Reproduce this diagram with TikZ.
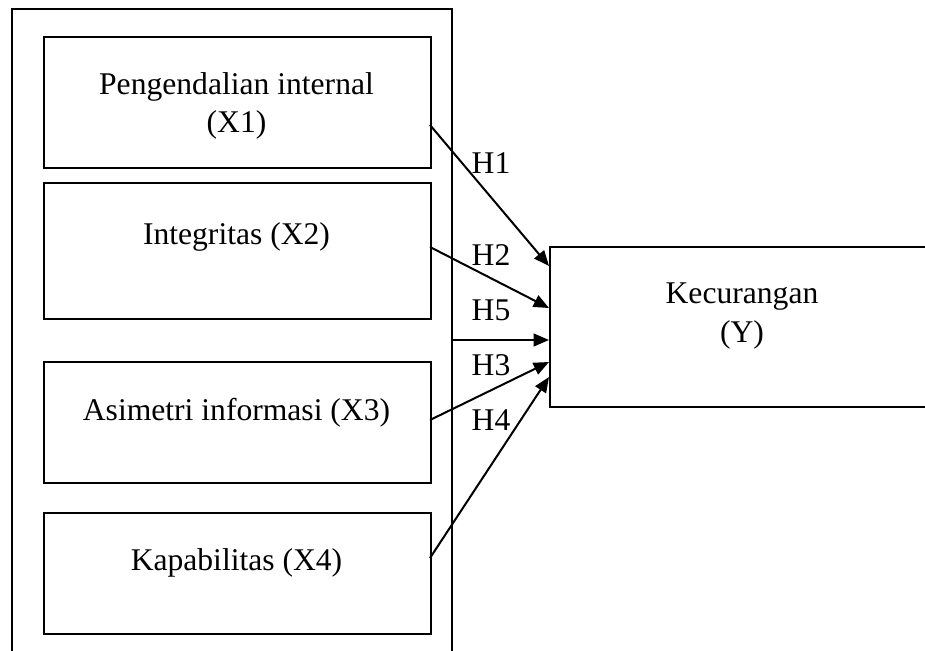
\documentclass[tikz,border=0pt]{standalone}
\usepackage{fontspec}
\setmainfont{Liberation Serif}
\usetikzlibrary{arrows.meta}
\tikzset{
  box/.style={draw, line width=1.4pt, rectangle, inner sep=0pt, anchor=north west},
  txt/.style={font=\fontsize{23.7}{29}\selectfont, inner sep=0pt, align=center},
  conn/.style={line width=1.5pt, -{Triangle[length=11.5pt,width=9.5pt]}},
  hlab/.style={font=\fontsize{23.7}{29}\selectfont, inner sep=0pt}
}
\begin{document}
\begin{tikzpicture}[x=0.75pt,y=-0.75pt]
\useasboundingbox (0,0) rectangle (925,650);
\clip (0,0) rectangle (925,650);
% outer frame
\draw[line width=1.4pt] (12,670) -- (12,9) -- (452,9) -- (452,670);
% boxes
\node[box, minimum width=387*0.75pt, minimum height=131*0.75pt] (x1) at (43,36) {};
\node[box, minimum width=387*0.75pt, minimum height=136*0.75pt] (x2) at (43,182) {};
\node[box, minimum width=387*0.75pt, minimum height=121*0.75pt] (x3) at (43,361) {};
\node[box, minimum width=387*0.75pt, minimum height=121*0.75pt] (x4) at (43,512) {};
\node[box, minimum width=400*0.75pt, minimum height=160*0.75pt] (y) at (549,246) {};
% texts
\node[txt] (t1) at (236.5,106) {Pengendalian internal\\(X1)};
\node[txt] (t2) at (236.5,237) {Integritas (X2)};
\node[txt] (t3) at (236.5,413) {Asimetri informasi (X3)};
\node[txt] (t4) at (236.5,563) {Kapabilitas (X4)};
\node[txt] (ty) at (742,316) {Kecurangan\\(Y)};
% connector end points
\coordinate (s1) at (430,125);
\coordinate (s2) at (430,247);
\coordinate (s5) at (452,340);
\coordinate (s3) at (430,420);
\coordinate (s4) at (430,558);
\coordinate (e1) at (549,266);
\coordinate (e2) at (549,308);
\coordinate (e5) at (549,340);
\coordinate (e3) at (549,362);
\coordinate (e4) at (549,377);
\draw[conn] (s1) -- (e1);
\draw[conn] (s2) -- (e2);
\draw[conn] (s5) -- (e5);
\draw[conn] (s3) -- (e3);
\draw[conn] (s4) -- (e4);
% labels
\node[hlab] (h1) at (491,163) {H1};
\node[hlab] (h2) at (491,255) {H2};
\node[hlab] (h5) at (491,310) {H5};
\node[hlab] (h3) at (491,365) {H3};
\node[hlab] (h4) at (491,420) {H4};
\end{tikzpicture}
\end{document}
